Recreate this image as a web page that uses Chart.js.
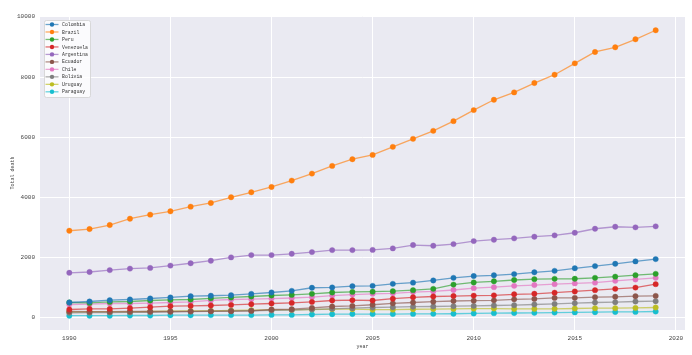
<!DOCTYPE html>
<html>
<head>
<meta charset="utf-8">
<script src="https://cdn.jsdelivr.net/npm/chart.js@4.4.0/dist/chart.umd.min.js"></script>
<style>
  html, body { margin: 0; padding: 0; background: #fff; }
</style>
</head>
<body>
<canvas id="myChart" width="692" height="355"></canvas>
<script>
var years = [1990, 1991, 1992, 1993, 1994, 1995, 1996, 1997, 1998, 1999,
             2000, 2001, 2002, 2003, 2004, 2005, 2006, 2007, 2008, 2009,
             2010, 2011, 2012, 2013, 2014, 2015, 2016, 2017, 2018, 2019];

var countries = ["Colombia", "Brazil", "Peru", "Venezuela", "Argentina",
                 "Ecuador", "Chile", "Bolivia", "Uruguay", "Paraguay"];

var colombia  = [500, 533, 577, 600, 633, 667, 710, 725, 743, 787, 833, 887, 990, 1000, 1043,
                 1053, 1120, 1160, 1233, 1320, 1380, 1405, 1445, 1505, 1553, 1638, 1710, 1787, 1867, 1943];
var brazil    = [2887, 2943, 3077, 3288, 3422, 3533, 3688, 3810, 4000, 4166, 4343, 4555, 4788, 5043, 5266,
                 5410, 5677, 5943, 6210, 6533, 6900, 7243, 7488, 7800, 8077, 8455, 8833, 8988, 9255, 9555];
var peru      = [500, 487, 520, 533, 567, 587, 600, 640, 667, 700, 733, 753, 787, 833, 853,
                 860, 877, 910, 953, 1095, 1167, 1205, 1248, 1277, 1287, 1290, 1320, 1360, 1410, 1453];
var venezuela = [267, 287, 287, 310, 343, 377, 387, 400, 420, 443, 467, 487, 520, 567, 577,
                 567, 627, 672, 700, 715, 730, 738, 772, 790, 825, 867, 910, 953, 995, 1110];
var argentina = [1487, 1515, 1577, 1627, 1650, 1727, 1805, 1890, 2000, 2077, 2077, 2120, 2177, 2243, 2243,
                 2250, 2300, 2410, 2388, 2443, 2543, 2588, 2633, 2688, 2733, 2820, 2953, 3020, 3000, 3033];
var ecuador   = [200, 195, 195, 200, 200, 200, 205, 210, 210, 220, 267, 277, 320, 367, 387,
                 425, 472, 500, 527, 550, 560, 572, 605, 620, 653, 655, 677, 690, 710, 720];
var chile     = [433, 443, 467, 467, 477, 500, 520, 570, 600, 610, 630, 650, 680, 730, 765,
                 790, 805, 845, 867, 915, 977, 1010, 1053, 1080, 1110, 1135, 1160, 1220, 1267, 1320];
var bolivia   = [155, 160, 165, 170, 175, 185, 195, 205, 215, 225, 235, 250, 270, 290, 310,
                 333, 343, 360, 367, 377, 387, 400, 410, 433, 453, 477, 500, 510, 533, 543];
var uruguay   = [180, 187, 187, 187, 200, 210, 220, 220, 233, 243, 253, 253, 267, 277, 277,
                 260, 262, 275, 280, 287, 295, 298, 285, 287, 290, 300, 310, 312, 320, 333];
var paraguay  = [60, 60, 60, 67, 67, 77, 77, 80, 80, 80, 87, 87, 100, 110, 115,
                 115, 115, 120, 122, 125, 135, 145, 150, 155, 165, 170, 177, 185, 187, 200];

var xTicks = [1990, 1995, 2000, 2005, 2010, 2015, 2020];
var yTicks = [0, 2000, 4000, 6000, 8000, 10000];

var series = [colombia, brazil, peru, venezuela, argentina, ecuador, chile, bolivia, uruguay, paraguay];
var colors = ["#1f77b4", "#ff7f0e", "#2ca02c", "#d62728", "#9467bd",
              "#8c564b", "#e377c2", "#7f7f7f", "#bcbd22", "#17becf"];

function alpha(hex, a) {
  var r = parseInt(hex.slice(1, 3), 16), g = parseInt(hex.slice(3, 5), 16), b = parseInt(hex.slice(5, 7), 16);
  return "rgba(" + r + "," + g + "," + b + "," + a + ")";
}

var datasets = countries.map(function (name, i) {
  return {
    label: name,
    data: years.map(function (yr, j) { return { x: yr, y: series[i][j] }; }),
    borderColor: alpha(colors[i], 0.65),
    borderWidth: 1.3,
    backgroundColor: colors[i],
    pointBackgroundColor: colors[i],
    pointBorderColor: alpha(colors[i], 0.35),
    pointBorderWidth: 1,
    pointRadius: 2.7,
    tension: 0
  };
});

var monoFont = "'Liberation Mono', 'DejaVu Sans Mono', monospace";

// grey panel behind the plot
var panelBg = {
  id: "panelBg",
  beforeDraw: function (chart) {
    var a = chart.chartArea, ctx = chart.ctx;
    ctx.save();
    ctx.fillStyle = "#eaeaf2";
    ctx.fillRect(a.left, a.top, a.right - a.left, a.bottom - a.top);
    ctx.restore();
  }
};

// legend in the upper left corner of the plot
var innerLegend = {
  id: "innerLegend",
  afterDraw: function (chart) {
    var ctx = chart.ctx;
    var bx = 44, by = 20, bw = 46, bh = 77;
    ctx.save();
    ctx.fillStyle = "rgba(255,255,255,0.8)";
    ctx.strokeStyle = "#d0d0d0";
    ctx.lineWidth = 0.8;
    ctx.beginPath();
    ctx.roundRect(bx + 0.5, by + 0.5, bw, bh, 2);
    ctx.fill();
    ctx.stroke();
    ctx.font = "4.8px " + monoFont;
    ctx.textBaseline = "middle";
    chart.data.datasets.forEach(function (ds, i) {
      var cy = by + 4.5 + i * 7.48;
      ctx.strokeStyle = ds.borderColor;
      ctx.lineWidth = 1.3;
      ctx.beginPath();
      ctx.moveTo(45.5, cy);
      ctx.lineTo(58.5, cy);
      ctx.stroke();
      ctx.fillStyle = ds.pointBackgroundColor;
      ctx.beginPath();
      ctx.arc(52, cy, 2.2, 0, Math.PI * 2);
      ctx.fill();
      ctx.fillStyle = "#333";
      ctx.fillText(ds.label, 62, cy + 0.3);
    });
    ctx.restore();
  }
};

new Chart(document.getElementById("myChart"), {
  type: "line",
  data: { datasets: datasets },
  plugins: [panelBg, innerLegend],
  options: {
    responsive: false,
    devicePixelRatio: 1,
    animation: false,
    layout: { padding: { left: 0, right: 7, top: 16, bottom: 0 } },
    plugins: {
      legend: { display: false },
      tooltip: { enabled: false }
    },
    scales: {
      x: {
        type: "linear",
        min: 1988.55,
        max: 2020.45,
        afterBuildTicks: function (s) { s.ticks = xTicks.map(function (v) { return { value: v }; }); },
        afterFit: function (s) { s.height = 25; },
        grid: { color: "#ffffff", lineWidth: 1, drawTicks: false },
        border: { display: false },
        ticks: { color: "#444", font: { family: monoFont, size: 6 }, padding: 5, maxRotation: 0,
                 callback: function (v) { return String(v); } },
        title: { display: true, text: "year", color: "#444", font: { family: monoFont, size: 5 },
                 padding: { top: 0, bottom: 5 } }
      },
      y: {
        min: -415,
        max: 10030,
        afterBuildTicks: function (s) { s.ticks = yTicks.map(function (v) { return { value: v }; }); },
        afterFit: function (s) { s.width = 40; },
        grid: { color: "#ffffff", lineWidth: 1, drawTicks: false },
        border: { display: false },
        ticks: { color: "#444", font: { family: monoFont, size: 6 }, padding: 5,
                 callback: function (v) { return String(v); } },
        title: { display: true, text: "Total death", color: "#444", font: { family: monoFont, size: 5 },
                 padding: { top: 10, bottom: 0 } }
      }
    }
  }
});
</script>
</body>
</html>
